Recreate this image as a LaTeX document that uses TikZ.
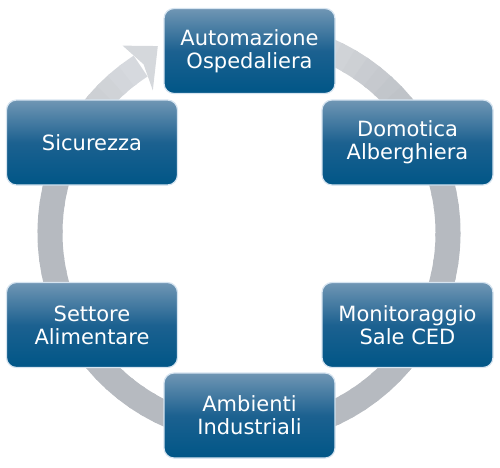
\documentclass[tikz,border=0pt]{standalone}
\usepackage{fontspec}
\setmainfont{DejaVu Sans}
\usetikzlibrary{calc}
\definecolor{boxtop}{RGB}{112,150,180}
\definecolor{boxmid}{RGB}{28,97,144}
\definecolor{boxbot}{RGB}{0,86,135}
\definecolor{boxedge}{RGB}{214,228,240}
\definecolor{ringdark}{RGB}{182,186,192}
\definecolor{ringlight}{RGB}{238,240,243}

\begin{document}
\begin{tikzpicture}[x=1pt,y=-1pt,
    sector/.style={rounded corners=10pt,minimum width=171pt,minimum height=85pt,inner sep=0pt,
        top color=boxtop,bottom color=boxbot,middle color=boxmid,draw=boxedge,line width=1.2pt,
        text=white,align=center,font=\fontsize{21}{23}\selectfont},
    ring/.style={line width=25pt}]
        \useasboundingbox (0,0) rectangle (500,467);
        \coordinate (c) at (249,233);

        \foreach \a in {-80,-76,...,232}{
            \pgfmathtruncatemacro\m{min(100,30+(\a+80)*1.5,35+(237-\a)*1.5)}
            \draw[ring,ringdark!\m!ringlight] ($(c)+(\a:199)$) arc[start angle=\a,end angle=\a+5,radius=199];
        }
        \fill[ringdark!45!ringlight] ($(c)+(236:172)$) -- ($(c)+(238:199)$) -- ($(c)+(236:226)$) -- ($(c)+(244:208)$) -- cycle;

        \foreach [count=\i] \coord/\txt in {(249.5,51)/{Automazione\\Ospedaliera},(407.5,142.5)/{Domotica\\Alberghiera},(407.5,325)/{Monitoraggio\\Sale CED},(249.5,415.5)/{Ambienti\\Industriali},(92,325)/{Settore\\Alimentare},(92,142.5)/Sicurezza}{
            \node[sector] (s\i) at \coord {\txt};
        }
    \end{tikzpicture}
\end{document}
